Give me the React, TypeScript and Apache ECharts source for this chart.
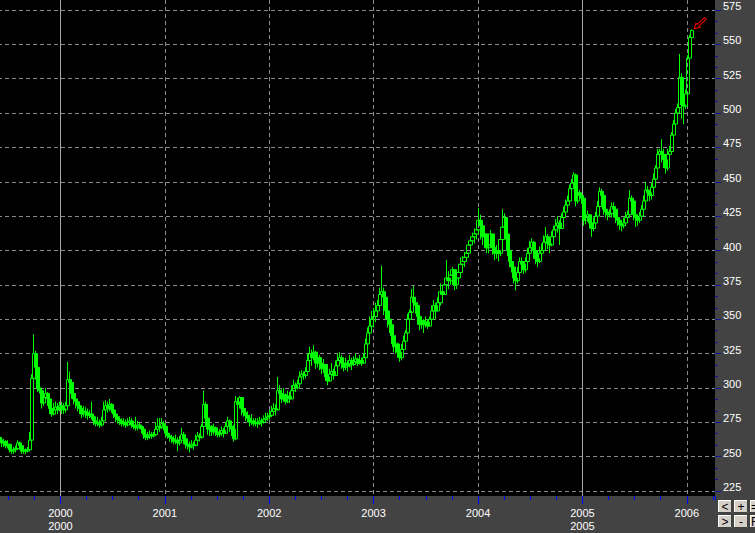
import React, { useEffect, useRef } from "react";
import * as echarts from "echarts";

// ---- Weekly gold price bars (week ending Friday), June 1999 - January 2006 ----
const firstWeek = "1999-06-04";
const firstOpen = 264;

const close1999 = [262,260,261,258,259,255,254,255,256,260,258,254,255,254,255,262,307,325,315,300,298,289,293,296,292,285,281,284,286,284,287];
const high1999 = [267,264,263,262,262,258,257,257,258,262,261,258,257,256,257,268,310,339,327,308,304,296,297,300,297,291,287,289,290,289,290];
const low1999 = [258,257,257,256,256,253,252,252,253,255,255,252,252,252,253,254,260,304,306,297,296,285,287,290,287,281,279,280,282,281,283];

const close2000 = [285,284,287,306,304,296,292,290,287,285,281,283,282,280,281,279,276,274,275,273,276,284,287,285,288,284,281,279,277,276,274,275,273,275,276,273,272,271,273,272,270,266,264,265,266,265,266,270,272,271,274,272];
const high2000 = [290,289,290,319,312,306,298,294,291,289,287,287,286,285,284,290,280,278,279,277,279,290,291,290,292,289,285,283,281,279,278,278,277,278,279,278,275,279,276,275,273,271,268,268,269,268,268,275,278,278,278,276];
const low2000 = [281,281,282,285,296,292,288,285,283,281,278,279,278,277,278,277,273,272,272,271,272,276,282,282,283,282,278,275,274,273,272,272,271,272,273,271,270,269,269,270,267,263,262,262,263,263,264,265,268,268,270,269];

const close2001 = [267,265,264,263,261,262,260,262,266,263,259,258,257,259,258,262,265,264,272,288,278,270,272,268,271,268,266,267,269,267,272,276,272,270,263,290,288,293,285,282,280,278,275,276,274,275,274,276,275,277,278,279];
const high2001 = [272,270,267,266,265,266,264,265,271,268,263,262,261,262,261,266,268,267,274,298,290,278,276,273,274,272,269,270,272,271,275,279,277,274,273,294,293,294,290,287,285,283,280,281,278,278,278,279,278,280,282,282];
const low2001 = [264,263,261,260,259,259,254,258,260,259,256,255,253,256,255,258,261,261,263,270,274,266,265,265,266,265,264,264,265,264,268,270,268,265,261,262,283,285,280,279,276,275,272,273,272,272,271,273,272,274,275,276];

const close2002 = [280,283,285,284,298,296,292,295,290,294,292,298,302,300,303,308,310,309,312,320,325,322,326,318,322,318,314,317,308,305,310,312,309,316,320,322,318,315,318,316,320,317,319,321,318,320,318,322,332,340,345,350];
const high2002 = [284,287,289,288,308,302,299,300,296,298,297,302,306,304,306,312,313,312,315,325,330,328,331,327,326,324,322,321,316,312,314,318,314,320,325,326,324,320,322,320,324,322,323,325,322,324,322,325,336,344,352,356];
const low2002 = [277,279,281,280,284,290,289,290,288,289,289,292,297,297,299,303,306,306,307,312,318,316,320,314,315,313,310,311,305,302,305,307,306,312,315,317,314,312,313,312,315,313,316,317,316,317,316,318,321,330,338,342];

const close2003 = [352,356,360,368,370,366,356,350,346,338,330,332,326,322,328,334,340,350,355,366,362,360,352,346,349,346,348,345,350,356,360,356,362,370,368,375,380,378,382,386,375,380,384,390,392,395,398,404,407,410,412,415];
const high2003 = [358,362,364,373,389,373,368,360,354,350,340,336,333,328,332,338,342,354,357,372,374,366,362,354,352,350,352,350,352,360,364,362,366,376,374,380,393,385,385,388,386,384,389,395,396,399,401,407,410,413,416,418];
const low2003 = [344,348,352,356,362,353,350,344,340,332,326,325,322,319,320,326,330,340,346,356,358,354,346,342,343,340,344,343,345,347,352,350,356,360,362,368,373,372,375,376,371,372,378,382,386,388,392,397,401,404,405,408];

const close2004 = [422,418,410,412,402,404,412,402,398,400,398,408,417,424,412,400,392,388,380,378,384,392,390,386,392,398,402,406,400,394,392,398,400,406,410,405,404,410,415,418,420,416,424,428,433,436,445,449,455,436,442,440,438];
const high2004 = [431,426,415,416,412,408,415,412,404,404,403,412,430,427,424,414,400,394,390,384,388,395,395,392,395,402,407,409,407,401,398,403,405,411,417,412,408,414,418,423,425,422,427,432,437,440,448,452,457,456,444,444,441];
const low2004 = [412,408,404,405,398,398,402,397,393,394,392,396,406,414,408,396,388,384,376,371,376,382,385,383,384,390,396,400,394,390,388,391,394,400,404,401,398,403,408,412,413,404,416,421,426,430,434,442,447,432,434,436,434];

const close2005 = [422,424,426,420,416,420,425,432,443,440,430,428,426,427,432,430,424,422,419,418,420,424,426,438,436,426,424,422,425,430,436,444,442,440,446,452,460,470,472,470,466,460,470,472,484,492,500,504,526,506,505,514];
const high2005 = [428,428,429,426,421,424,428,436,446,445,440,430,429,430,435,435,430,428,424,422,424,428,429,444,440,438,428,426,428,433,440,450,447,444,449,456,462,474,474,481,474,470,474,476,486,495,503,507,543,529,510,517];
const low2005 = [418,419,421,416,410,414,418,424,430,432,426,424,422,424,424,424,420,418,415,414,416,418,421,426,430,422,417,418,420,424,428,434,437,436,437,444,450,458,464,464,460,456,458,462,470,483,490,498,504,496,492,503];

const close2006 = [540,555,560];
const high2006 = [542,557,561];
const low2006 = [514,535,553];

const closes = [...close1999, ...close2000, ...close2001, ...close2002, ...close2003, ...close2004, ...close2005, ...close2006];
const highs = [...high1999, ...high2000, ...high2001, ...high2002, ...high2003, ...high2004, ...high2005, ...high2006];
const lows = [...low1999, ...low2000, ...low2001, ...low2002, ...low2003, ...low2004, ...low2005, ...low2006];

// ---- Axes ----
const xStartYear = 1999;
const xEndYear = 2006.27;
const doubleLabelYears = [2000, 2005];
const solidYearLines = [2000, 2005];
const priceMin = 225;
const priceMax = 575;
const priceStep = 25;
// the black panel reaches a little past 225 / 575
const panelPriceMin = 221.362;
const panelPriceMax = 582.276;

const buttonLabels = [
  ["<", "+", "="],
  [">", "-", "F"],
];

const FONT = '"Liberation Sans", Arial, sans-serif';
// chart canvas starts left of the window so that 1999.0 sits just off-screen
const SHIFT = 44;
const W = 755;
const H = 533;

function yearFraction(d: Date): number {
  const y = d.getUTCFullYear();
  const s = Date.UTC(y, 0, 1);
  const e = Date.UTC(y + 1, 0, 1);
  return y + (d.getTime() - s) / (e - s);
}

function buildRows() {
  const start = new Date(firstWeek + "T00:00:00Z").getTime();
  return closes.map((c, i) => {
    const t = yearFraction(new Date(start + i * 7 * 86400000));
    const o = i === 0 ? firstOpen : closes[i - 1];
    return [t, o, c, lows[i], highs[i]];
  });
}

// arrow pointing down-left (tip at bottom-left)
const ARROW_PATH =
  "path://M0 20 L9.9 17.2 L7.8 15.1 L19.8 3 L17 0.2 L4.95 12.2 L2.8 10.1 Z";

function buildButtons() {
  const out: any[] = [];
  const bx0 = 718 + SHIFT;
  const by0 = 500;
  const w = 14;
  const h = 13;
  const dx = 16;
  const dy = 15;
  buttonLabels.forEach((row, r) => {
    row.forEach((label, c) => {
      const x = bx0 + c * dx;
      const y = by0 + r * dy;
      out.push({
        type: "rect",
        z: 100,
        shape: { x, y, width: w, height: h },
        style: { fill: "#d4d0c8", stroke: "none" },
        silent: true,
      });
      out.push({
        type: "polyline",
        z: 101,
        shape: { points: [[x + 0.5, y + h], [x + 0.5, y + 0.5], [x + w, y + 0.5]] },
        style: { stroke: "#ffffff", lineWidth: 1, fill: "none" },
        silent: true,
      });
      out.push({
        type: "polyline",
        z: 101,
        shape: { points: [[x + w - 0.5, y], [x + w - 0.5, y + h - 0.5], [x, y + h - 0.5]] },
        style: { stroke: "#404040", lineWidth: 1, fill: "none" },
        silent: true,
      });
      out.push({
        type: "text",
        z: 102,
        style: {
          text: label,
          x: c === 2 ? x + 1 : x + w / 2,
          y: y + h / 2 + 0.5,
          align: c === 2 ? "left" : "center",
          verticalAlign: "middle",
          fill: "#000000",
          font: `12px ${FONT}`,
        },
        silent: true,
      });
    });
  });
  return out;
}

export default function App() {
  const ref = useRef<HTMLDivElement | null>(null);

  useEffect(() => {
    if (!ref.current) return;
    const chart = echarts.init(ref.current, undefined, { renderer: "svg" });
    const rows = buildRows();
    const last = rows[rows.length - 1];
    const gridLine = { color: "#8a8a8a", width: 1, type: [4, 3] as any };

    chart.setOption({
      animation: false,
      backgroundColor: "#434343",
      grid: [
        { left: 0, right: 40, top: 0, bottom: 37, show: true, backgroundColor: "#000000", borderWidth: 0 },
        { left: 0, right: 40, top: 10, bottom: 42, show: false },
      ],
      xAxis: [
        {
          type: "value",
          gridIndex: 0,
          position: "bottom",
          min: xStartYear,
          max: xEndYear,
          interval: 0.25,
          axisLine: { show: false },
          axisTick: { show: true, length: 4, lineStyle: { color: "#0000ff", width: 1 } },
          axisLabel: { show: false },
          splitLine: { show: false },
        },
        {
          type: "value",
          gridIndex: 0,
          position: "bottom",
          min: xStartYear,
          max: xEndYear,
          interval: 1,
          axisLine: { show: false },
          axisTick: { show: true, length: 8, lineStyle: { color: "#0000ff", width: 1 } },
          axisLabel: {
            show: true,
            color: "#ffffff",
            fontFamily: FONT,
            fontSize: 11,
            lineHeight: 13,
            margin: 10,
            showMinLabel: false,
            showMaxLabel: false,
            formatter: (v: number) => {
              const r = Math.round(v);
              if (Math.abs(v - r) > 1e-6 || r === xStartYear) return "";
              return doubleLabelYears.includes(r) ? `${r}\n${r}` : String(r);
            },
          },
          splitLine: { show: true, showMaxLine: false, lineStyle: gridLine },
        },
        { type: "value", gridIndex: 1, min: xStartYear, max: xEndYear, show: false },
      ],
      yAxis: [
        { type: "value", gridIndex: 0, min: panelPriceMin, max: panelPriceMax, show: false },
        {
          type: "value",
          gridIndex: 1,
          position: "right",
          min: priceMin,
          max: priceMax,
          interval: priceStep,
          axisLine: { show: false },
          axisTick: { show: true, length: 6, lineStyle: { color: "#1010a0", width: 1 } },
          minorTick: { show: true, splitNumber: 3, length: 3, lineStyle: { color: "#1010a0", width: 1 } },
          axisLabel: {
            color: "#ffffff",
            fontFamily: FONT,
            fontSize: 11,
            margin: 8,
            verticalAlign: "bottom",
            lineHeight: 8,
          },
          splitLine: { show: true, lineStyle: gridLine },
        },
      ],
      series: [
        {
          type: "candlestick",
          xAxisIndex: 0,
          yAxisIndex: 0,
          barWidth: 4,
          data: rows,
          itemStyle: {
            color: "rgba(0,0,0,0)",
            color0: "#00ff00",
            borderColor: "#00ff00",
            borderColor0: "#00ff00",
            borderWidth: 1,
          },
          markLine: {
            silent: true,
            z: 1,
            symbol: ["none", "none"],
            label: { show: false },
            lineStyle: { color: "#a8a8a8", type: "solid", width: 1 },
            data: solidYearLines.map((y) => ({ xAxis: y })),
          },
          markPoint: {
            silent: true,
            symbol: ARROW_PATH,
            symbolSize: [12, 11],
            symbolOffset: [8, -6],
            label: { show: false },
            itemStyle: { color: "rgba(0,0,0,0)", borderColor: "#ff0000", borderWidth: 1 },
            data: [{ coord: [last[0], last[4]] }],
          },
        },
      ],
      graphic: buildButtons(),
    });

    return () => {
      chart.dispose();
    };
  }, []);

  return (
    <div style={{ position: "fixed", left: 0, top: 0, width: W, height: H, overflow: "hidden", background: "#434343" }}>
      <div ref={ref} style={{ position: "absolute", left: -SHIFT, top: 0, width: W + SHIFT, height: H }} />
    </div>
  );
}
